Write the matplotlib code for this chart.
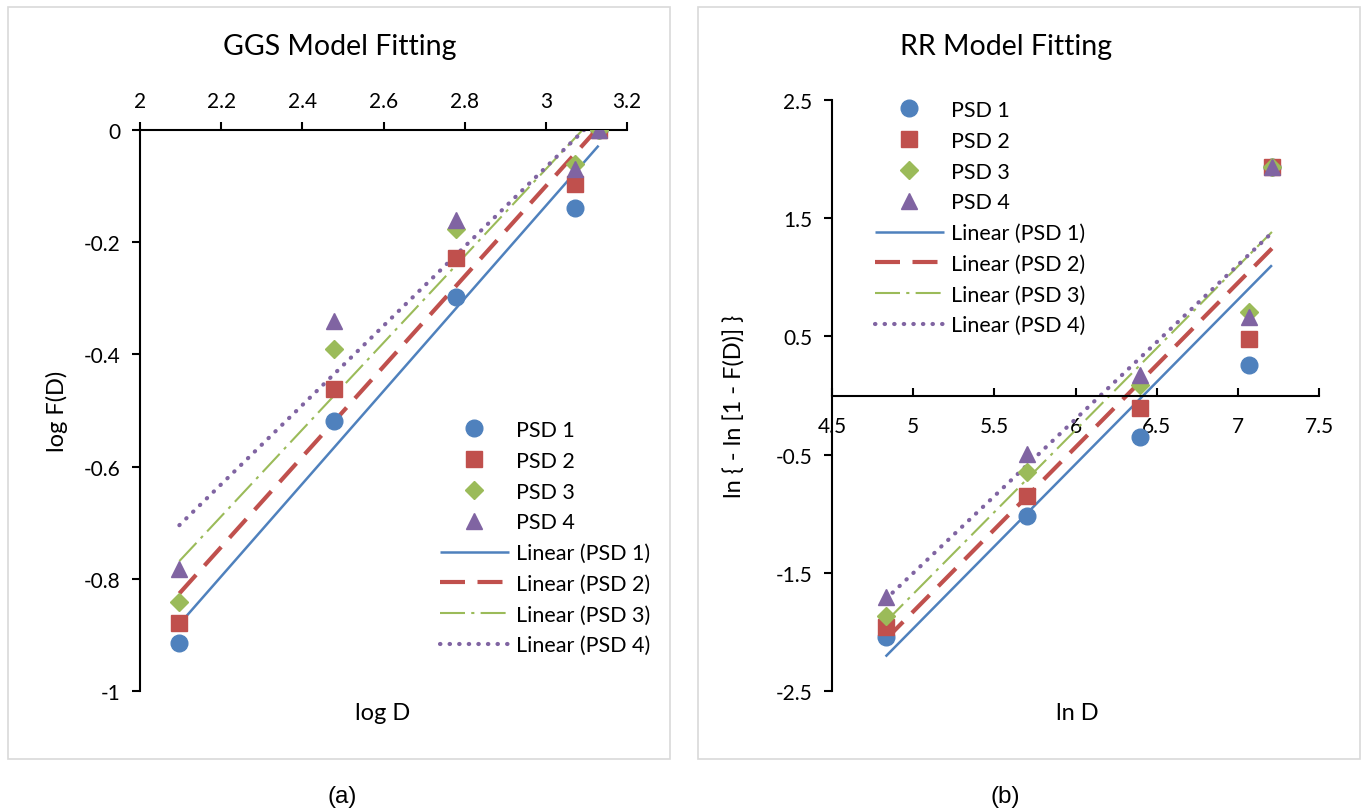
import numpy as np
import matplotlib
matplotlib.use('Agg')
import matplotlib.pyplot as plt
from matplotlib.patches import Rectangle

## Datos
logD = [2.097, 2.477, 2.778, 3.072, 3.130]
logF_psd1 = [-0.915, -0.519, -0.297, -0.139, 0.0]
logF_psd2 = [-0.878, -0.461, -0.228, -0.096, 0.0]
logF_psd3 = [-0.841, -0.391, -0.176, -0.060, 0.0]
logF_psd4 = [-0.783, -0.341, -0.160, -0.070, 0.0]

lnD = [4.83, 5.70, 6.40, 7.07, 7.21]
rr_psd1 = [-2.047, -1.018, -0.351, 0.262, 1.932]
rr_psd2 = [-1.957, -0.851, -0.108, 0.475, 1.932]
rr_psd3 = [-1.864, -0.651, 0.085, 0.708, 1.932]
rr_psd4 = [-1.707, -0.491, 0.175, 0.668, 1.932]

nombres = ['PSD 1', 'PSD 2', 'PSD 3', 'PSD 4']
colores = ['#4F81BD', '#C0504D', '#9BBB59', '#8064A2']
marcadores = ['o', 's', 'D', '^']
tamanos = [12, 11.5, 9.5, 12]
estilos = ['-', (0, (6, 3)), (0, (12, 3, 1.5, 3)), (0, (0.1, 2.2))]
anchos = [1.8, 3.0, 1.5, 3.0]
capstyles = ['butt', 'butt', 'butt', 'round']

plt.rcParams['font.family'] = ['Lato', 'DejaVu Sans']

W, H = 1368, 812
fig = plt.figure(figsize=(13.68, 8.12), dpi=100)

# marcos grises de cada grafico
for x0 in [8, 698]:
    fig.patches.append(Rectangle((x0 / W, 1 - 760 / H), 662 / W, 752 / H,
                                 transform=fig.transFigure, fill=False,
                                 edgecolor='#D9D9D9', linewidth=1.2))


def dibujar(ax, x, series):
    for i, y in enumerate(series):
        ax.plot(x, y, linestyle='none', marker=marcadores[i], markersize=tamanos[i],
                color=colores[i], label=nombres[i], zorder=3)
    for i, y in enumerate(series):
        a, b = np.polyfit(x, y, 1)
        xs = np.array([x[0], x[-1]])
        ax.plot(xs, a * xs + b, linestyle=estilos[i], linewidth=anchos[i],
                color=colores[i], solid_capstyle='butt', dash_capstyle=capstyles[i],
                label='Linear (' + nombres[i] + ')', zorder=2)


def leyenda(ax, px, py):
    ax.legend(loc='upper left', bbox_to_anchor=(px / W, 1 - py / H),
              bbox_transform=fig.transFigure, frameon=False, fontsize=15.5,
              handlelength=3.2, handletextpad=0.35, labelspacing=0.5,
              borderpad=0, borderaxespad=0)


## Grafico (a) GGS
ax1 = fig.add_axes([140 / W, 1 - 692 / H, 487 / W, 561 / H])
dibujar(ax1, logD, [logF_psd1, logF_psd2, logF_psd3, logF_psd4])
ax1.set_xlim(2, 3.2)
ax1.set_ylim(-1, 0)
ax1.set_xticks(np.arange(2, 3.21, 0.2))
ax1.set_xticklabels(['2', '2.2', '2.4', '2.6', '2.8', '3', '3.2'])
ax1.set_yticks(np.arange(-1, 0.01, 0.2))
ax1.set_yticklabels(['-1', '-0.8', '-0.6', '-0.4', '-0.2', '0'])
ax1.xaxis.tick_top()
ax1.spines['bottom'].set_visible(False)
ax1.spines['right'].set_visible(False)
for s in ['top', 'left']:
    ax1.spines[s].set_linewidth(1.5)
ax1.tick_params(axis='both', direction='out', length=6, width=1.5, labelsize=15, pad=8)
leyenda(ax1, 440, 421)

## Grafico (b) RR
ax2 = fig.add_axes([832 / W, 1 - 692 / H, 487 / W, 591 / H])
dibujar(ax2, lnD, [rr_psd1, rr_psd2, rr_psd3, rr_psd4])
ax2.set_xlim(4.5, 7.5)
ax2.set_ylim(-2.5, 2.5)
ax2.set_xticks(np.arange(4.5, 7.51, 0.5))
ax2.set_xticklabels(['4.5', '5', '5.5', '6', '6.5', '7', '7.5'])
ax2.set_yticks(np.arange(-2.5, 2.51, 1))
ax2.set_yticklabels(['-2.5', '-1.5', '-0.5', '0.5', '1.5', '2.5'])
ax2.spines['bottom'].set_position(('data', 0))
ax2.spines['top'].set_visible(False)
ax2.spines['right'].set_visible(False)
for s in ['bottom', 'left']:
    ax2.spines[s].set_linewidth(1.5)
ax2.tick_params(axis='y', direction='out', length=6, width=1.5, labelsize=15, pad=8)
ax2.tick_params(axis='x', direction='in', length=6, width=1.5, labelsize=15, pad=15)
leyenda(ax2, 875, 101)

## Titulos y etiquetas de ejes
fig.text(340 / W, 1 - 47 / H, 'GGS Model Fitting', fontsize=20.5, ha='center', va='center')
fig.text(1006 / W, 1 - 47 / H, 'RR Model Fitting', fontsize=20.5, ha='center', va='center')
fig.text(383 / W, 1 - 714 / H, 'log D', fontsize=17, ha='center', va='center')
fig.text(1077 / W, 1 - 714 / H, 'ln D', fontsize=17, ha='center', va='center')
fig.text(57 / W, 1 - 411 / H, 'log F(D)', fontsize=17, ha='center', va='center', rotation=90)
fig.text(735 / W, 1 - 406 / H, 'ln { - ln [1 - F(D)] }', fontsize=17, ha='center',
         va='center', rotation=90)

## Etiquetas (a) y (b)
fig.text(342 / W, 1 - 797 / H, '(a)', fontsize=17.5, ha='center', va='center',
         family='Liberation Sans')
fig.text(1005 / W, 1 - 797 / H, '(b)', fontsize=17.5, ha='center', va='center',
         family='Liberation Sans')

fig.savefig('out.png', dpi=100)
